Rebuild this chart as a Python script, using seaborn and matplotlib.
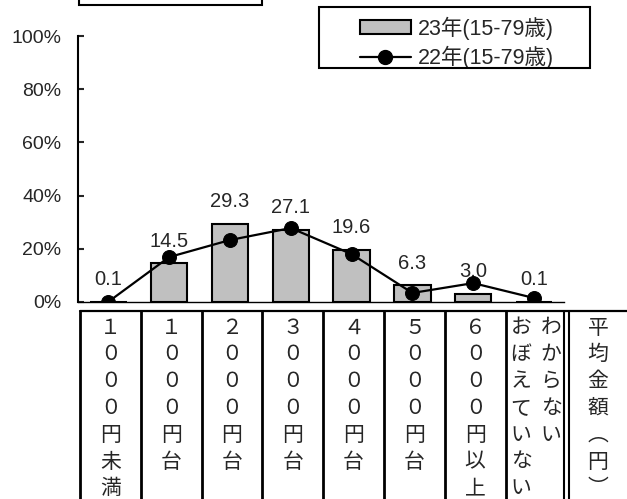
import numpy as np
import pandas as pd
import seaborn as sns
import matplotlib.pyplot as plt
from matplotlib.patches import Patch, Rectangle
from matplotlib.lines import Line2D

categories = ["1000円未満", "1000円台", "2000円台", "3000円台",
              "4000円台", "5000円台", "6000円以上", "わからない・おぼえていない"]
values_23 = [0.1, 14.5, 29.3, 27.1, 19.6, 6.3, 3.0, 0.1]
values_22 = [0.1, 16.9, 23.3, 27.8, 18.0, 3.4, 7.1, 1.5]
y_ticks = [0, 20, 40, 60, 80, 100]
series_labels = ["23年(15-79歳)", "22年(15-79歳)"]

# vertical text for the table under the chart (one string per column)
table_cols = [
    ["１０００円未満"],
    ["１０００円台"],
    ["２０００円台"],
    ["３０００円台"],
    ["４０００円台"],
    ["５０００円台"],
    ["６０００円以上"],
    ["おぼえていない", "わからない"],
    ["平均金額︵円︶"],
]

sns.set_style("ticks")
plt.rcParams["font.family"] = ["Liberation Sans", "Noto Sans CJK JP"]

W, H = 627, 499
fig = plt.figure(figsize=(W / 100, H / 100), dpi=100)

col_w = 60.8
ax_left, ax_top, ax_bottom = 78, 36, 302
ax = fig.add_axes([ax_left / W, (H - ax_bottom) / H,
                   col_w * 8 / W, (ax_bottom - ax_top) / H])

df = pd.DataFrame({"cat": categories, "v23": values_23, "v22": values_22})

sns.barplot(
    data=df,
    x="cat",
    y="v23",
    color="#C0C0C0",
    saturation=1,
    edgecolor="black",
    linewidth=1.5,
    width=0.6,
    ax=ax,
    zorder=2
)

sns.lineplot(
    x=np.arange(len(categories)),
    y=df["v22"],
    color="black",
    linewidth=1.6,
    marker="o",
    markersize=10,
    markeredgecolor="black",
    ax=ax,
    zorder=3
)

for i, v in enumerate(values_23):
    ax.annotate(
        f"{v:.1f}",
        (i, v),
        xytext=(0, 16),
        textcoords="offset points",
        ha="center",
        va="center",
        fontsize=14.5,
        zorder=1
    )

ax.set_xlim(-0.5, len(categories) - 0.5)
ax.set_ylim(0, 100)
ax.set_yticks(y_ticks)
ax.set_yticklabels([f"{t}%" for t in y_ticks], fontsize=14)
ax.set_xticks([])
ax.set_xlabel("")
ax.set_ylabel("")
ax.tick_params(axis="y", direction="in", length=4, width=1.5, pad=12)
ax.spines["top"].set_visible(False)
ax.spines["right"].set_visible(False)
ax.spines["left"].set_linewidth(1.5)
ax.spines["bottom"].set_linewidth(1.0)
ax.spines["left"].set_color("black")
ax.spines["bottom"].set_color("black")
ax.patch.set_visible(False)

handles = [
    Patch(facecolor="#C0C0C0", edgecolor="black", linewidth=1.5),
    Line2D([], [], color="black", linewidth=1.6, marker="o", markersize=10),
]
leg = ax.legend(
    handles,
    series_labels,
    loc="upper left",
    bbox_to_anchor=(352 / W, 1 - 9 / H),
    bbox_transform=fig.transFigure,
    borderaxespad=0,
    fontsize=15.5,
    frameon=False,
    handlelength=2.4,
    handleheight=0.6,
    handletextpad=0.3,
    labelspacing=0.3,
    borderpad=0.35
)

# table under the chart, drawn in pixel coordinates
tab = fig.add_axes([0, 0, 1, 1])
tab.set_xlim(0, W)
tab.set_ylim(H, 0)
tab.axis("off")

# legend frame
tab.add_patch(Rectangle((319, 7), 271, 61, fill=False, edgecolor="black", lw=1.5))

tab_top = 311
tab_left = 80
tab.plot([tab_left, W], [tab_top, tab_top], color="black", lw=1.6)
for k in range(9):
    x = tab_left + col_w * k
    if k == 8:
        for dx in (-2.2, 2.2):
            tab.plot([x + dx, x + dx], [tab_top, H], color="black", lw=1.5)
    else:
        tab.plot([x, x], [tab_top, H], color="black", lw=2)

row0, row_step = 327.5, 26.8
for k, col in enumerate(table_cols):
    if k < 8:
        x0 = tab_left + col_w * k
        centers = [x0 + col_w / 2] if len(col) == 1 else [x0 + 15.5, x0 + 45.5]
    else:
        centers = [598]
    for cx, text in zip(centers, col):
        for j, ch in enumerate(text):
            tab.text(cx, row0 + row_step * j, ch, ha="center", va="center",
                     fontsize=15, family=["Noto Sans CJK JP"])

# box peeking in at the top edge
tab.add_patch(Rectangle((78.5, -20), 183, 25, fill=False, edgecolor="black", lw=1.5))

fig.savefig("out.png", dpi=100)
plt.close(fig)
